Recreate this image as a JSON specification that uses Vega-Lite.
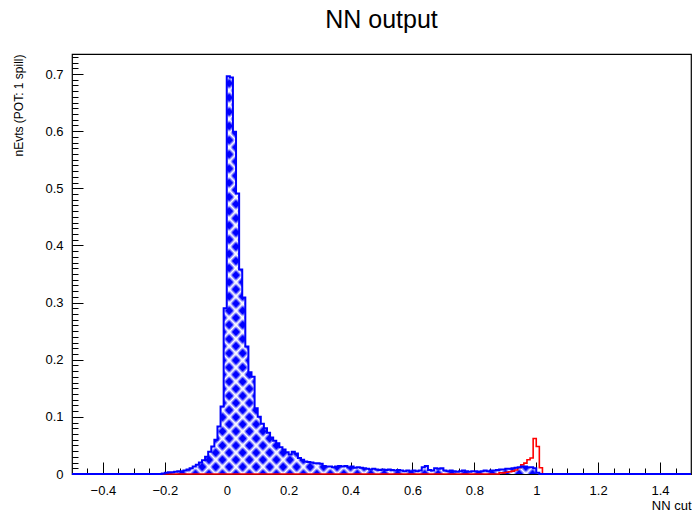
{
  "$schema": "https://vega.github.io/schema/vega-lite/v6.json",
  "width": 619,
  "height": 420,
  "autosize": {"type": "none"},
  "padding": {"left": 72, "top": 54, "right": 1, "bottom": 38},
  "background": "white",
  "title": {"text": "NN output", "fontSize": 25, "fontWeight": "normal", "font": "Liberation Sans", "color": "#000", "anchor": "middle", "baseline": "alphabetic", "offset": 1},
  "config": {"view": {"stroke": "#000", "strokeWidth": 1.2}, "font": "Liberation Sans"},
  "datasets": {
    "blue": [
      {"x": -0.5, "y": 0}, {"x": -0.21, "y": 0.001}, {"x": -0.2, "y": 0.002}, {"x": -0.19, "y": 0.003}, {"x": -0.18, "y": 0.003},
      {"x": -0.17, "y": 0.004}, {"x": -0.16, "y": 0.005}, {"x": -0.15, "y": 0.005}, {"x": -0.14, "y": 0.006}, {"x": -0.13, "y": 0.008},
      {"x": -0.12, "y": 0.010}, {"x": -0.11, "y": 0.013}, {"x": -0.1, "y": 0.016}, {"x": -0.09, "y": 0.020}, {"x": -0.08, "y": 0.024},
      {"x": -0.07, "y": 0.030}, {"x": -0.06, "y": 0.039}, {"x": -0.05, "y": 0.048}, {"x": -0.04, "y": 0.060}, {"x": -0.03, "y": 0.083},
      {"x": -0.02, "y": 0.118}, {"x": -0.01, "y": 0.29}, {"x": 0, "y": 0.696}, {"x": 0.01, "y": 0.694}, {"x": 0.02, "y": 0.599},
      {"x": 0.03, "y": 0.491}, {"x": 0.04, "y": 0.358}, {"x": 0.05, "y": 0.309}, {"x": 0.06, "y": 0.223}, {"x": 0.07, "y": 0.178},
      {"x": 0.08, "y": 0.170}, {"x": 0.09, "y": 0.115}, {"x": 0.1, "y": 0.100}, {"x": 0.11, "y": 0.088}, {"x": 0.12, "y": 0.080},
      {"x": 0.13, "y": 0.072}, {"x": 0.14, "y": 0.064}, {"x": 0.15, "y": 0.058}, {"x": 0.16, "y": 0.054}, {"x": 0.17, "y": 0.047},
      {"x": 0.18, "y": 0.043}, {"x": 0.19, "y": 0.038}, {"x": 0.2, "y": 0.034}, {"x": 0.21, "y": 0.039}, {"x": 0.22, "y": 0.036},
      {"x": 0.23, "y": 0.028}, {"x": 0.24, "y": 0.025}, {"x": 0.25, "y": 0.022}, {"x": 0.26, "y": 0.021}, {"x": 0.27, "y": 0.020},
      {"x": 0.28, "y": 0.019}, {"x": 0.29, "y": 0.019}, {"x": 0.3, "y": 0.018}, {"x": 0.31, "y": 0.014}, {"x": 0.32, "y": 0.013},
      {"x": 0.33, "y": 0.013}, {"x": 0.34, "y": 0.012}, {"x": 0.35, "y": 0.013}, {"x": 0.36, "y": 0.014}, {"x": 0.37, "y": 0.013},
      {"x": 0.38, "y": 0.014}, {"x": 0.39, "y": 0.012}, {"x": 0.4, "y": 0.013}, {"x": 0.41, "y": 0.011}, {"x": 0.42, "y": 0.012},
      {"x": 0.43, "y": 0.011}, {"x": 0.44, "y": 0.010}, {"x": 0.45, "y": 0.009}, {"x": 0.46, "y": 0.008}, {"x": 0.47, "y": 0.009},
      {"x": 0.48, "y": 0.008}, {"x": 0.49, "y": 0.007}, {"x": 0.5, "y": 0.008}, {"x": 0.51, "y": 0.007}, {"x": 0.52, "y": 0.008},
      {"x": 0.53, "y": 0.007}, {"x": 0.54, "y": 0.006}, {"x": 0.55, "y": 0.007}, {"x": 0.56, "y": 0.006}, {"x": 0.57, "y": 0.005},
      {"x": 0.58, "y": 0.006}, {"x": 0.59, "y": 0.005}, {"x": 0.6, "y": 0.006}, {"x": 0.61, "y": 0.005}, {"x": 0.62, "y": 0.006},
      {"x": 0.63, "y": 0.012}, {"x": 0.64, "y": 0.014}, {"x": 0.65, "y": 0.007}, {"x": 0.66, "y": 0.006}, {"x": 0.67, "y": 0.010},
      {"x": 0.68, "y": 0.009}, {"x": 0.69, "y": 0.010}, {"x": 0.7, "y": 0.006}, {"x": 0.71, "y": 0.005}, {"x": 0.72, "y": 0.006},
      {"x": 0.73, "y": 0.005}, {"x": 0.74, "y": 0.004}, {"x": 0.75, "y": 0.005}, {"x": 0.76, "y": 0.006}, {"x": 0.77, "y": 0.005},
      {"x": 0.78, "y": 0.004}, {"x": 0.79, "y": 0.005}, {"x": 0.8, "y": 0.005}, {"x": 0.81, "y": 0.004}, {"x": 0.82, "y": 0.005},
      {"x": 0.83, "y": 0.006}, {"x": 0.84, "y": 0.005}, {"x": 0.85, "y": 0.006}, {"x": 0.86, "y": 0.006}, {"x": 0.87, "y": 0.007},
      {"x": 0.88, "y": 0.008}, {"x": 0.89, "y": 0.008}, {"x": 0.9, "y": 0.009}, {"x": 0.91, "y": 0.009}, {"x": 0.92, "y": 0.010},
      {"x": 0.93, "y": 0.011}, {"x": 0.94, "y": 0.012}, {"x": 0.95, "y": 0.013}, {"x": 0.96, "y": 0.013}, {"x": 0.97, "y": 0.012},
      {"x": 0.98, "y": 0.012}, {"x": 0.99, "y": 0.010}, {"x": 1.0, "y": 0.002}, {"x": 1.01, "y": 0}, {"x": 1.5, "y": 0}
    ],
    "red": [
      {"x": -0.5, "y": 0}, {"x": 0.88, "y": 0.002}, {"x": 0.9, "y": 0.003}, {"x": 0.91, "y": 0.004}, {"x": 0.92, "y": 0.005},
      {"x": 0.93, "y": 0.007}, {"x": 0.94, "y": 0.011}, {"x": 0.95, "y": 0.016}, {"x": 0.96, "y": 0.019}, {"x": 0.97, "y": 0.025},
      {"x": 0.98, "y": 0.028}, {"x": 0.99, "y": 0.062}, {"x": 1.0, "y": 0.048}, {"x": 1.01, "y": 0.011}, {"x": 1.02, "y": 0}, {"x": 1.5, "y": 0}
    ]
  },
  "layer": [
    {
      "data": {"name": "blue"},
      "transform": [{"filter": "datum.x >= -0.25 && datum.x <= 1.05"}],
      "mark": {"type": "area", "interpolate": "step-after", "fill": "#0000ff", "stroke": null},
      "encoding": {
        "x": {"field": "x", "type": "quantitative", "scale": {"domain": [-0.5, 1.5], "nice": false, "zero": false},
          "axis": {"orient": "bottom", "values": [-0.4, -0.2, 0, 0.2, 0.4, 0.6, 0.8, 1, 1.2, 1.4], "format": "~g", "tickSize": -12, "tickColor": "#000", "tickWidth": 1, "labelPadding": 22, "labelFontSize": 13, "labelFont": "Liberation Sans", "labelColor": "#000", "labelFlush": false, "labelOverlap": false, "domain": false, "grid": false,
            "title": "NN cut", "titleFont": "Liberation Sans", "titleFontSize": 13, "titleFontWeight": "normal", "titleColor": "#000", "titleAlign": "right", "titleBaseline": "middle", "titleX": 619, "titleY": 31}},
        "y": {"field": "y", "type": "quantitative", "scale": {"domain": [0, 0.735], "nice": false, "zero": false},
          "axis": {"orient": "left", "values": [0, 0.1, 0.2, 0.3, 0.4, 0.5, 0.6, 0.7], "format": "~g", "tickSize": -11, "tickColor": "#000", "tickWidth": 1, "labelPadding": 20, "labelFontSize": 13, "labelFont": "Liberation Sans", "labelColor": "#000", "labelFlush": false, "labelOverlap": false, "domain": false, "grid": false,
            "title": "nEvts (POT: 1 spill)", "titleFont": "Liberation Sans", "titleFontSize": 12, "titleFontWeight": "normal", "titleColor": "#000", "titleAngle": 270, "titleAlign": "right", "titleBaseline": "middle", "titleX": -54, "titleY": 0}}
      }
    },
    {
      "data": {"name": "blue"},
      "transform": [{"filter": "datum.x >= -0.25 && datum.x <= 1.05"}],
      "mark": {"type": "area", "interpolate": "step-after", "stroke": null, "fill": {"gradient": "linear", "x1": 0, "y1": 0, "x2": 1, "y2": 1, "stops": [
        {"offset": 0, "color": "#fff"}, {"offset": 0.005, "color": "#fff0"}, {"offset": 0.0129, "color": "#fff0"},
        {"offset": 0.0179, "color": "#fff"}, {"offset": 0.0229, "color": "#fff0"}, {"offset": 0.0307, "color": "#fff0"},
        {"offset": 0.0357, "color": "#fff"}, {"offset": 0.0407, "color": "#fff0"}, {"offset": 0.0486, "color": "#fff0"},
        {"offset": 0.0536, "color": "#fff"}, {"offset": 0.0586, "color": "#fff0"}, {"offset": 0.0664, "color": "#fff0"},
        {"offset": 0.0714, "color": "#fff"}, {"offset": 0.0764, "color": "#fff0"}, {"offset": 0.0843, "color": "#fff0"},
        {"offset": 0.0893, "color": "#fff"}, {"offset": 0.0943, "color": "#fff0"}, {"offset": 0.1021, "color": "#fff0"},
        {"offset": 0.1071, "color": "#fff"}, {"offset": 0.1121, "color": "#fff0"}, {"offset": 0.12, "color": "#fff0"},
        {"offset": 0.125, "color": "#fff"}, {"offset": 0.13, "color": "#fff0"}, {"offset": 0.1379, "color": "#fff0"},
        {"offset": 0.1429, "color": "#fff"}, {"offset": 0.1479, "color": "#fff0"}, {"offset": 0.1557, "color": "#fff0"},
        {"offset": 0.1607, "color": "#fff"}, {"offset": 0.1657, "color": "#fff0"}, {"offset": 0.1736, "color": "#fff0"},
        {"offset": 0.1786, "color": "#fff"}, {"offset": 0.1836, "color": "#fff0"}, {"offset": 0.1914, "color": "#fff0"},
        {"offset": 0.1964, "color": "#fff"}, {"offset": 0.2014, "color": "#fff0"}, {"offset": 0.2093, "color": "#fff0"},
        {"offset": 0.2143, "color": "#fff"}, {"offset": 0.2193, "color": "#fff0"}, {"offset": 0.2271, "color": "#fff0"},
        {"offset": 0.2321, "color": "#fff"}, {"offset": 0.2371, "color": "#fff0"}, {"offset": 0.245, "color": "#fff0"},
        {"offset": 0.25, "color": "#fff"}, {"offset": 0.255, "color": "#fff0"}, {"offset": 0.2629, "color": "#fff0"},
        {"offset": 0.2679, "color": "#fff"}, {"offset": 0.2729, "color": "#fff0"}, {"offset": 0.2807, "color": "#fff0"},
        {"offset": 0.2857, "color": "#fff"}, {"offset": 0.2907, "color": "#fff0"}, {"offset": 0.2986, "color": "#fff0"},
        {"offset": 0.3036, "color": "#fff"}, {"offset": 0.3086, "color": "#fff0"}, {"offset": 0.3164, "color": "#fff0"},
        {"offset": 0.3214, "color": "#fff"}, {"offset": 0.3264, "color": "#fff0"}, {"offset": 0.3343, "color": "#fff0"},
        {"offset": 0.3393, "color": "#fff"}, {"offset": 0.3443, "color": "#fff0"}, {"offset": 0.3521, "color": "#fff0"},
        {"offset": 0.3571, "color": "#fff"}, {"offset": 0.3621, "color": "#fff0"}, {"offset": 0.37, "color": "#fff0"},
        {"offset": 0.375, "color": "#fff"}, {"offset": 0.38, "color": "#fff0"}, {"offset": 0.3879, "color": "#fff0"},
        {"offset": 0.3929, "color": "#fff"}, {"offset": 0.3979, "color": "#fff0"}, {"offset": 0.4057, "color": "#fff0"},
        {"offset": 0.4107, "color": "#fff"}, {"offset": 0.4157, "color": "#fff0"}, {"offset": 0.4236, "color": "#fff0"},
        {"offset": 0.4286, "color": "#fff"}, {"offset": 0.4336, "color": "#fff0"}, {"offset": 0.4414, "color": "#fff0"},
        {"offset": 0.4464, "color": "#fff"}, {"offset": 0.4514, "color": "#fff0"}, {"offset": 0.4593, "color": "#fff0"},
        {"offset": 0.4643, "color": "#fff"}, {"offset": 0.4693, "color": "#fff0"}, {"offset": 0.4771, "color": "#fff0"},
        {"offset": 0.4821, "color": "#fff"}, {"offset": 0.4871, "color": "#fff0"}, {"offset": 0.495, "color": "#fff0"},
        {"offset": 0.5, "color": "#fff"}, {"offset": 0.505, "color": "#fff0"}, {"offset": 0.5129, "color": "#fff0"},
        {"offset": 0.5179, "color": "#fff"}, {"offset": 0.5229, "color": "#fff0"}, {"offset": 0.5307, "color": "#fff0"},
        {"offset": 0.5357, "color": "#fff"}, {"offset": 0.5407, "color": "#fff0"}, {"offset": 0.5486, "color": "#fff0"},
        {"offset": 0.5536, "color": "#fff"}, {"offset": 0.5586, "color": "#fff0"}, {"offset": 0.5664, "color": "#fff0"},
        {"offset": 0.5714, "color": "#fff"}, {"offset": 0.5764, "color": "#fff0"}, {"offset": 0.5843, "color": "#fff0"},
        {"offset": 0.5893, "color": "#fff"}, {"offset": 0.5943, "color": "#fff0"}, {"offset": 0.6021, "color": "#fff0"},
        {"offset": 0.6071, "color": "#fff"}, {"offset": 0.6121, "color": "#fff0"}, {"offset": 0.62, "color": "#fff0"},
        {"offset": 0.625, "color": "#fff"}, {"offset": 0.63, "color": "#fff0"}, {"offset": 0.6379, "color": "#fff0"},
        {"offset": 0.6429, "color": "#fff"}, {"offset": 0.6479, "color": "#fff0"}, {"offset": 0.6557, "color": "#fff0"},
        {"offset": 0.6607, "color": "#fff"}, {"offset": 0.6657, "color": "#fff0"}, {"offset": 0.6736, "color": "#fff0"},
        {"offset": 0.6786, "color": "#fff"}, {"offset": 0.6836, "color": "#fff0"}, {"offset": 0.6914, "color": "#fff0"},
        {"offset": 0.6964, "color": "#fff"}, {"offset": 0.7014, "color": "#fff0"}, {"offset": 0.7093, "color": "#fff0"},
        {"offset": 0.7143, "color": "#fff"}, {"offset": 0.7193, "color": "#fff0"}, {"offset": 0.7271, "color": "#fff0"},
        {"offset": 0.7321, "color": "#fff"}, {"offset": 0.7371, "color": "#fff0"}, {"offset": 0.745, "color": "#fff0"},
        {"offset": 0.75, "color": "#fff"}, {"offset": 0.755, "color": "#fff0"}, {"offset": 0.7629, "color": "#fff0"},
        {"offset": 0.7679, "color": "#fff"}, {"offset": 0.7729, "color": "#fff0"}, {"offset": 0.7807, "color": "#fff0"},
        {"offset": 0.7857, "color": "#fff"}, {"offset": 0.7907, "color": "#fff0"}, {"offset": 0.7986, "color": "#fff0"},
        {"offset": 0.8036, "color": "#fff"}, {"offset": 0.8086, "color": "#fff0"}, {"offset": 0.8164, "color": "#fff0"},
        {"offset": 0.8214, "color": "#fff"}, {"offset": 0.8264, "color": "#fff0"}, {"offset": 0.8343, "color": "#fff0"},
        {"offset": 0.8393, "color": "#fff"}, {"offset": 0.8443, "color": "#fff0"}, {"offset": 0.8521, "color": "#fff0"},
        {"offset": 0.8571, "color": "#fff"}, {"offset": 0.8621, "color": "#fff0"}, {"offset": 0.87, "color": "#fff0"},
        {"offset": 0.875, "color": "#fff"}, {"offset": 0.88, "color": "#fff0"}, {"offset": 0.8879, "color": "#fff0"},
        {"offset": 0.8929, "color": "#fff"}, {"offset": 0.8979, "color": "#fff0"}, {"offset": 0.9057, "color": "#fff0"},
        {"offset": 0.9107, "color": "#fff"}, {"offset": 0.9157, "color": "#fff0"}, {"offset": 0.9236, "color": "#fff0"},
        {"offset": 0.9286, "color": "#fff"}, {"offset": 0.9336, "color": "#fff0"}, {"offset": 0.9414, "color": "#fff0"},
        {"offset": 0.9464, "color": "#fff"}, {"offset": 0.9514, "color": "#fff0"}, {"offset": 0.9593, "color": "#fff0"},
        {"offset": 0.9643, "color": "#fff"}, {"offset": 0.9693, "color": "#fff0"}, {"offset": 0.9771, "color": "#fff0"},
        {"offset": 0.9821, "color": "#fff"}, {"offset": 0.9871, "color": "#fff0"}, {"offset": 0.995, "color": "#fff0"},
        {"offset": 1, "color": "#fff"}]}},
      "encoding": {
        "x": {"field": "x", "type": "quantitative", "scale": {"domain": [-0.5, 1.5], "nice": false, "zero": false}, "axis": null},
        "y": {"field": "y", "type": "quantitative", "scale": {"domain": [0, 0.735], "nice": false, "zero": false}, "axis": null}
      }
    },
    {
      "data": {"name": "blue"},
      "transform": [{"filter": "datum.x >= -0.25 && datum.x <= 1.05"}],
      "mark": {"type": "area", "interpolate": "step-after", "stroke": null, "fill": {"gradient": "linear", "x1": 1, "y1": 0, "x2": 0, "y2": 1, "stops": [
        {"offset": 0, "color": "#fff"}, {"offset": 0.005, "color": "#fff0"}, {"offset": 0.0129, "color": "#fff0"},
        {"offset": 0.0179, "color": "#fff"}, {"offset": 0.0229, "color": "#fff0"}, {"offset": 0.0307, "color": "#fff0"},
        {"offset": 0.0357, "color": "#fff"}, {"offset": 0.0407, "color": "#fff0"}, {"offset": 0.0486, "color": "#fff0"},
        {"offset": 0.0536, "color": "#fff"}, {"offset": 0.0586, "color": "#fff0"}, {"offset": 0.0664, "color": "#fff0"},
        {"offset": 0.0714, "color": "#fff"}, {"offset": 0.0764, "color": "#fff0"}, {"offset": 0.0843, "color": "#fff0"},
        {"offset": 0.0893, "color": "#fff"}, {"offset": 0.0943, "color": "#fff0"}, {"offset": 0.1021, "color": "#fff0"},
        {"offset": 0.1071, "color": "#fff"}, {"offset": 0.1121, "color": "#fff0"}, {"offset": 0.12, "color": "#fff0"},
        {"offset": 0.125, "color": "#fff"}, {"offset": 0.13, "color": "#fff0"}, {"offset": 0.1379, "color": "#fff0"},
        {"offset": 0.1429, "color": "#fff"}, {"offset": 0.1479, "color": "#fff0"}, {"offset": 0.1557, "color": "#fff0"},
        {"offset": 0.1607, "color": "#fff"}, {"offset": 0.1657, "color": "#fff0"}, {"offset": 0.1736, "color": "#fff0"},
        {"offset": 0.1786, "color": "#fff"}, {"offset": 0.1836, "color": "#fff0"}, {"offset": 0.1914, "color": "#fff0"},
        {"offset": 0.1964, "color": "#fff"}, {"offset": 0.2014, "color": "#fff0"}, {"offset": 0.2093, "color": "#fff0"},
        {"offset": 0.2143, "color": "#fff"}, {"offset": 0.2193, "color": "#fff0"}, {"offset": 0.2271, "color": "#fff0"},
        {"offset": 0.2321, "color": "#fff"}, {"offset": 0.2371, "color": "#fff0"}, {"offset": 0.245, "color": "#fff0"},
        {"offset": 0.25, "color": "#fff"}, {"offset": 0.255, "color": "#fff0"}, {"offset": 0.2629, "color": "#fff0"},
        {"offset": 0.2679, "color": "#fff"}, {"offset": 0.2729, "color": "#fff0"}, {"offset": 0.2807, "color": "#fff0"},
        {"offset": 0.2857, "color": "#fff"}, {"offset": 0.2907, "color": "#fff0"}, {"offset": 0.2986, "color": "#fff0"},
        {"offset": 0.3036, "color": "#fff"}, {"offset": 0.3086, "color": "#fff0"}, {"offset": 0.3164, "color": "#fff0"},
        {"offset": 0.3214, "color": "#fff"}, {"offset": 0.3264, "color": "#fff0"}, {"offset": 0.3343, "color": "#fff0"},
        {"offset": 0.3393, "color": "#fff"}, {"offset": 0.3443, "color": "#fff0"}, {"offset": 0.3521, "color": "#fff0"},
        {"offset": 0.3571, "color": "#fff"}, {"offset": 0.3621, "color": "#fff0"}, {"offset": 0.37, "color": "#fff0"},
        {"offset": 0.375, "color": "#fff"}, {"offset": 0.38, "color": "#fff0"}, {"offset": 0.3879, "color": "#fff0"},
        {"offset": 0.3929, "color": "#fff"}, {"offset": 0.3979, "color": "#fff0"}, {"offset": 0.4057, "color": "#fff0"},
        {"offset": 0.4107, "color": "#fff"}, {"offset": 0.4157, "color": "#fff0"}, {"offset": 0.4236, "color": "#fff0"},
        {"offset": 0.4286, "color": "#fff"}, {"offset": 0.4336, "color": "#fff0"}, {"offset": 0.4414, "color": "#fff0"},
        {"offset": 0.4464, "color": "#fff"}, {"offset": 0.4514, "color": "#fff0"}, {"offset": 0.4593, "color": "#fff0"},
        {"offset": 0.4643, "color": "#fff"}, {"offset": 0.4693, "color": "#fff0"}, {"offset": 0.4771, "color": "#fff0"},
        {"offset": 0.4821, "color": "#fff"}, {"offset": 0.4871, "color": "#fff0"}, {"offset": 0.495, "color": "#fff0"},
        {"offset": 0.5, "color": "#fff"}, {"offset": 0.505, "color": "#fff0"}, {"offset": 0.5129, "color": "#fff0"},
        {"offset": 0.5179, "color": "#fff"}, {"offset": 0.5229, "color": "#fff0"}, {"offset": 0.5307, "color": "#fff0"},
        {"offset": 0.5357, "color": "#fff"}, {"offset": 0.5407, "color": "#fff0"}, {"offset": 0.5486, "color": "#fff0"},
        {"offset": 0.5536, "color": "#fff"}, {"offset": 0.5586, "color": "#fff0"}, {"offset": 0.5664, "color": "#fff0"},
        {"offset": 0.5714, "color": "#fff"}, {"offset": 0.5764, "color": "#fff0"}, {"offset": 0.5843, "color": "#fff0"},
        {"offset": 0.5893, "color": "#fff"}, {"offset": 0.5943, "color": "#fff0"}, {"offset": 0.6021, "color": "#fff0"},
        {"offset": 0.6071, "color": "#fff"}, {"offset": 0.6121, "color": "#fff0"}, {"offset": 0.62, "color": "#fff0"},
        {"offset": 0.625, "color": "#fff"}, {"offset": 0.63, "color": "#fff0"}, {"offset": 0.6379, "color": "#fff0"},
        {"offset": 0.6429, "color": "#fff"}, {"offset": 0.6479, "color": "#fff0"}, {"offset": 0.6557, "color": "#fff0"},
        {"offset": 0.6607, "color": "#fff"}, {"offset": 0.6657, "color": "#fff0"}, {"offset": 0.6736, "color": "#fff0"},
        {"offset": 0.6786, "color": "#fff"}, {"offset": 0.6836, "color": "#fff0"}, {"offset": 0.6914, "color": "#fff0"},
        {"offset": 0.6964, "color": "#fff"}, {"offset": 0.7014, "color": "#fff0"}, {"offset": 0.7093, "color": "#fff0"},
        {"offset": 0.7143, "color": "#fff"}, {"offset": 0.7193, "color": "#fff0"}, {"offset": 0.7271, "color": "#fff0"},
        {"offset": 0.7321, "color": "#fff"}, {"offset": 0.7371, "color": "#fff0"}, {"offset": 0.745, "color": "#fff0"},
        {"offset": 0.75, "color": "#fff"}, {"offset": 0.755, "color": "#fff0"}, {"offset": 0.7629, "color": "#fff0"},
        {"offset": 0.7679, "color": "#fff"}, {"offset": 0.7729, "color": "#fff0"}, {"offset": 0.7807, "color": "#fff0"},
        {"offset": 0.7857, "color": "#fff"}, {"offset": 0.7907, "color": "#fff0"}, {"offset": 0.7986, "color": "#fff0"},
        {"offset": 0.8036, "color": "#fff"}, {"offset": 0.8086, "color": "#fff0"}, {"offset": 0.8164, "color": "#fff0"},
        {"offset": 0.8214, "color": "#fff"}, {"offset": 0.8264, "color": "#fff0"}, {"offset": 0.8343, "color": "#fff0"},
        {"offset": 0.8393, "color": "#fff"}, {"offset": 0.8443, "color": "#fff0"}, {"offset": 0.8521, "color": "#fff0"},
        {"offset": 0.8571, "color": "#fff"}, {"offset": 0.8621, "color": "#fff0"}, {"offset": 0.87, "color": "#fff0"},
        {"offset": 0.875, "color": "#fff"}, {"offset": 0.88, "color": "#fff0"}, {"offset": 0.8879, "color": "#fff0"},
        {"offset": 0.8929, "color": "#fff"}, {"offset": 0.8979, "color": "#fff0"}, {"offset": 0.9057, "color": "#fff0"},
        {"offset": 0.9107, "color": "#fff"}, {"offset": 0.9157, "color": "#fff0"}, {"offset": 0.9236, "color": "#fff0"},
        {"offset": 0.9286, "color": "#fff"}, {"offset": 0.9336, "color": "#fff0"}, {"offset": 0.9414, "color": "#fff0"},
        {"offset": 0.9464, "color": "#fff"}, {"offset": 0.9514, "color": "#fff0"}, {"offset": 0.9593, "color": "#fff0"},
        {"offset": 0.9643, "color": "#fff"}, {"offset": 0.9693, "color": "#fff0"}, {"offset": 0.9771, "color": "#fff0"},
        {"offset": 0.9821, "color": "#fff"}, {"offset": 0.9871, "color": "#fff0"}, {"offset": 0.995, "color": "#fff0"},
        {"offset": 1, "color": "#fff"}]}},
      "encoding": {
        "x": {"field": "x", "type": "quantitative", "scale": {"domain": [-0.5, 1.5], "nice": false, "zero": false}, "axis": null},
        "y": {"field": "y", "type": "quantitative", "scale": {"domain": [0, 0.735], "nice": false, "zero": false}, "axis": null}
      }
    },
    {
      "data": {"name": "red"},
      "mark": {"type": "line", "interpolate": "step-after", "stroke": "#ff0000", "strokeWidth": 1.6},
      "encoding": {
        "x": {"field": "x", "type": "quantitative", "scale": {"domain": [-0.5, 1.5], "nice": false, "zero": false},
          "axis": {"orient": "bottom", "values": [-0.45, -0.35, -0.3, -0.25, -0.15, -0.1, -0.05, 0.05, 0.1, 0.15, 0.25, 0.3, 0.35, 0.45, 0.5, 0.55, 0.65, 0.7, 0.75, 0.85, 0.9, 0.95, 1.05, 1.1, 1.15, 1.25, 1.3, 1.35, 1.45], "tickSize": -6, "tickColor": "#000", "tickWidth": 1, "labels": false, "domain": false, "grid": false, "title": null}},
        "y": {"field": "y", "type": "quantitative", "scale": {"domain": [0, 0.735], "nice": false, "zero": false},
          "axis": {"orient": "left", "values": [0.01, 0.02, 0.03, 0.04, 0.05, 0.06, 0.07, 0.08, 0.09, 0.11, 0.12, 0.13, 0.14, 0.15, 0.16, 0.17, 0.18, 0.19, 0.21, 0.22, 0.23, 0.24, 0.25, 0.26, 0.27, 0.28, 0.29, 0.31, 0.32, 0.33, 0.34, 0.35, 0.36, 0.37, 0.38, 0.39, 0.41, 0.42, 0.43, 0.44, 0.45, 0.46, 0.47, 0.48, 0.49, 0.51, 0.52, 0.53, 0.54, 0.55, 0.56, 0.57, 0.58, 0.59, 0.61, 0.62, 0.63, 0.64, 0.65, 0.66, 0.67, 0.68, 0.69, 0.71, 0.72, 0.73], "tickSize": -6, "tickColor": "#000", "tickWidth": 1, "labels": false, "domain": false, "grid": false, "title": null}}
      }
    },
    {
      "data": {"name": "blue"},
      "mark": {"type": "line", "interpolate": "step-after", "stroke": "#0000ff", "strokeWidth": 2},
      "encoding": {
        "x": {"field": "x", "type": "quantitative", "scale": {"domain": [-0.5, 1.5], "nice": false, "zero": false}, "axis": null},
        "y": {"field": "y", "type": "quantitative", "scale": {"domain": [0, 0.735], "nice": false, "zero": false}, "axis": null}
      }
    }
  ],
  "resolve": {"axis": {"x": "independent", "y": "independent"}}
}
